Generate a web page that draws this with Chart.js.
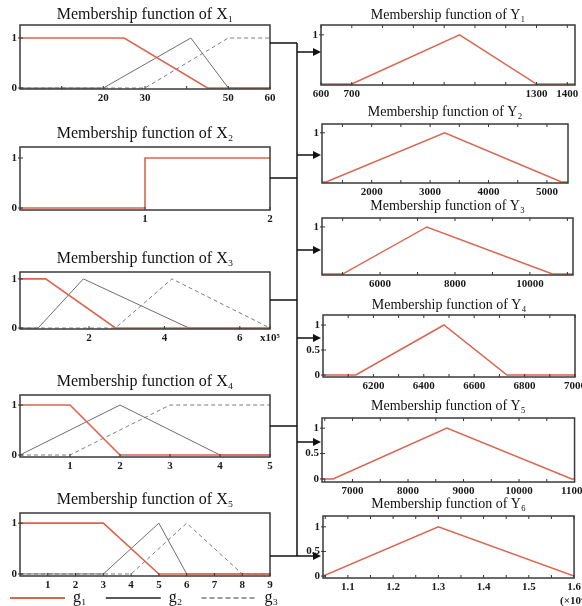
<!DOCTYPE html>
<html>
<head>
<meta charset="utf-8">
<script src="https://cdn.jsdelivr.net/npm/chart.js@4.4.0/dist/chart.umd.min.js"></script>
<style>
html, body { margin: 0; padding: 0; background: #fff; overflow: hidden; }
#wrap { position: relative; width: 582px; height: 606px; overflow: hidden; }
#wrap canvas { position: absolute; }
</style>
</head>
<body>
<div id="wrap"><canvas id="links" width="582" height="606" style="left:0;top:0;z-index:2"></canvas></div>
<script>
// ---- data (membership functions) ----
var x1G1 = [[0, 1], [25, 1], [45, 0], [60, 0]];
var x1G2 = [[0, 0], [20, 0], [41, 1], [50, 0], [60, 0]];
var x1G3 = [[0, 0], [30, 0], [50, 1], [60, 1]];
var x1TickVals = [10, 20, 30, 40, 50, 60];
var x1TickText = ['', '20', '30', '', '50', '60'];

var x2G1 = [[0, 0], [1, 0], [1, 1], [2, 1]];
var x2TickVals = [1, 2];
var x2TickText = ['1', '2'];

var x3G1 = [[0.17, 1], [0.85, 1], [2.7, 0], [6.8, 0]];
var x3G2 = [[0.17, 0], [0.65, 0], [1.85, 1], [4.65, 0], [6.8, 0]];
var x3G3 = [[0.17, 0], [2.7, 0], [4.2, 1], [6.8, 0]];
var x3TickVals = [2, 4, 6, 6.8];
var x3TickText = ['2', '4', '6', 'x10\u2075'];

var x4G1 = [[0, 1], [1, 1], [2, 0], [5, 0]];
var x4G2 = [[0, 0], [2, 1], [4, 0], [5, 0]];
var x4G3 = [[0, 0], [1, 0], [3, 1], [5, 1]];
var x4TickVals = [1, 2, 3, 4, 5];
var x4TickText = ['1', '2', '3', '4', '5'];

var x5G1 = [[0, 1], [3, 1], [5, 0], [9, 0]];
var x5G2 = [[0, 0], [3, 0], [5, 1], [6, 0], [9, 0]];
var x5G3 = [[0, 0], [4, 0], [6, 1], [8, 0], [9, 0]];
var x5TickVals = [1, 2, 3, 4, 5, 6, 7, 8, 9];
var x5TickText = ['1', '2', '3', '4', '5', '6', '7', '8', '9'];

var y1Line = [[600, 0], [700, 0], [1050, 1], [1300, 0], [1425, 0]];
var y1TickVals = [600, 700, 800, 900, 1000, 1100, 1200, 1300, 1400];
var y1TickText = ['600', '700', '', '', '', '', '', '1300', '1400'];

var y2Line = [[1150, 0], [1220, 0], [3250, 1], [5250, 0], [5360, 0]];
var y2TickVals = [1500, 2000, 2500, 3000, 3500, 4000, 4500, 5000];
var y2TickText = ['', '2000', '', '3000', '', '4000', '', '5000'];

var y3Line = [[4450, 0], [5000, 0], [7250, 1], [10600, 0], [11150, 0]];
var y3TickVals = [5000, 6000, 7000, 8000, 9000, 10000, 11000];
var y3TickText = ['', '6000', '', '8000', '', '10000', ''];

var y4Line = [[6000, 0], [6130, 0], [6480, 1], [6730, 0], [7000, 0]];
var y4TickVals = [6100, 6200, 6300, 6400, 6500, 6600, 6700, 6800, 6900, 7000];
var y4TickText = ['', '6200', '', '6400', '', '6600', '', '6800', '', '7000'];

var y5Line = [[6450, 0], [6650, 0], [8700, 1], [10950, 0], [11000, 0]];
var y5TickVals = [6500, 7000, 7500, 8000, 8500, 9000, 9500, 10000, 10500, 11000];
var y5TickText = ['', '7000', '', '8000', '', '9000', '', '10000', '', '11000'];

var y6Line = [[1.045, 0], [1.3, 1], [1.6, 0]];
var y6TickVals = [1.05, 1.1, 1.15, 1.2, 1.25, 1.3, 1.35, 1.4, 1.45, 1.5, 1.55, 1.6];
var y6TickText = ['', '1.1', '', '1.2', '', '1.3', '', '1.4', '', '1.5', '', ['1.6', '(\u00d710\u2074)']];

var muVals01 = [0, 1];
var muText01 = ['0', '1'];
var muVals1 = [1];
var muText1 = ['1'];
var muValsHalf = [0, 0.5, 1];
var muTextHalf = ['0', '0.5', '1'];

var legendNames = ['g\u2081', 'g\u2082', 'g\u2083'];

// ---- styles ----
var RED = '#d9654f', GRAY = '#6e6e6e', DGRAY = '#7c7c7c';
var SERIF = "'Liberation Serif', 'DejaVu Serif', serif";

Chart.defaults.font.family = SERIF;
Chart.defaults.color = '#1a1a1a';
Chart.defaults.animation = false;

var wrap = document.getElementById('wrap');

// frame around the plot area and small inward tick marks
var frame = {
  id: 'frame',
  afterDraw: function (chart, args, o) {
    var ctx = chart.ctx, a = chart.chartArea, sx = chart.scales.x, sy = chart.scales.y;
    ctx.save();
    ctx.strokeStyle = '#333';
    ctx.lineWidth = 1;
    sx.ticks.forEach(function (t) {
      var px = sx.getPixelForValue(t.value);
      ctx.beginPath();
      ctx.moveTo(px, a.bottom); ctx.lineTo(px, a.bottom - 3);
      if (o.top) { ctx.moveTo(px, a.top); ctx.lineTo(px, a.top + 3); }
      ctx.stroke();
    });
    sy.ticks.forEach(function (t) {
      var py = sy.getPixelForValue(t.value);
      ctx.beginPath();
      ctx.moveTo(a.left - 2, py); ctx.lineTo(a.left + 3, py);
      ctx.stroke();
    });
    ctx.lineWidth = 1.5;
    ctx.strokeStyle = '#3a3a3a';
    ctx.strokeRect(a.left, a.top, a.right - a.left, a.bottom - a.top);
    ctx.restore();
  }
};

function series(label, pts, color, width, dash) {
  return {
    label: label,
    data: pts.map(function (p) { return {x: p[0], y: p[1]}; }),
    borderColor: color,
    backgroundColor: color,
    borderWidth: width,
    borderDash: dash || [],
    pointRadius: 0,
    pointStyle: 'line',
    tension: 0,
    fill: false
  };
}

function axis(min, max, vals, text) {
  return {
    type: 'linear',
    min: min,
    max: max,
    grid: {display: false, drawTicks: false},
    border: {display: false},
    afterBuildTicks: function (s) { s.ticks = vals.map(function (v) { return {value: v}; }); },
    ticks: {
      autoSkip: false,
      maxRotation: 0,
      padding: 3,
      font: {size: 11, weight: 'bold'},
      callback: function (v, i) { return text[i]; }
    }
  };
}

// plot box: l, t, r, b in page pixels
function makeChart(box, kind, title, datasets, xAx, yAx, extra) {
  extra = extra || {};
  var yw = extra.yw || (kind === 'X' ? 20 : 24);
  var padL = extra.padL || 0;
  var gap = extra.titleGap !== undefined ? extra.titleGap : 3;
  var titleH = (kind === 'X' ? 20 : 17) + gap;
  var xh = extra.xh || 15;
  var rp = extra.padR ? 0 : 16;
  var legendH = extra.legend ? 26 : 0;
  var cv = document.createElement('canvas');
  cv.width = padL + yw + (box.r - box.l) + (extra.padR || rp);
  cv.height = titleH + (box.b - box.t) + xh + legendH;
  cv.style.left = (box.l - yw - padL) + 'px';
  cv.style.top = (box.t - titleH) + 'px';
  wrap.appendChild(cv);

  xAx.afterFit = function (s) {
    s.height = xh;
    if (extra.padR) s.paddingRight = extra.padR;
  };
  yAx.afterFit = function (s) { s.width = yw; };

  return new Chart(cv, {
    type: 'line',
    data: {datasets: datasets},
    plugins: [frame],
    options: {
      responsive: false,
      devicePixelRatio: 1,
      layout: {padding: {left: padL, top: 0, right: rp, bottom: 0}},
      scales: {x: xAx, y: yAx},
      plugins: {
        frame: {top: kind === 'Y'},
        tooltip: {enabled: false},
        title: {
          display: true,
          text: title,
          fullSize: false,
          color: '#111',
          font: kind === 'X'
            ? {size: 16, weight: 'normal', lineHeight: '20px'}
            : {size: 14, weight: 'normal', lineHeight: '17px'},
          padding: {top: 0, bottom: gap}
        },
        legend: extra.legend ? {
          display: true,
          position: 'bottom',
          align: 'start',
          labels: {
            usePointStyle: true,
            pointStyleWidth: 55,
            padding: 0,
            color: '#111',
            font: {size: 16, family: SERIF},
            generateLabels: function (chart) {
              var items = Chart.defaults.plugins.legend.labels.generateLabels(chart);
              items.forEach(function (it, i) {
                var ds = chart.data.datasets[i];
                it.text = legendNames[i] + (i < 2 ? '\u2003\u2009' : '');
                it.strokeStyle = i === 1 ? '#222' : ds.borderColor;
                it.lineWidth = i === 0 ? 2 : 1.5;
                it.lineDash = i === 2 ? [5, 3] : [];
              });
              return items;
            }
          }
        } : {display: false}
      }
    }
  });
}

function gSeries(g1, g2, g3) {
  var out = [series(legendNames[0], g1, RED, 1.6)];
  if (g2) out.push(series(legendNames[1], g2, GRAY, 1));
  if (g3) out.push(series(legendNames[2], g3, DGRAY, 1, [4, 3]));
  return out;
}

// left column: inputs
makeChart({l: 20, t: 25, r: 270, b: 89}, 'X', 'Membership function of X\u2081',
  gSeries(x1G1, x1G2, x1G3),
  axis(0, 60, x1TickVals, x1TickText), axis(-0.02, 1.26, muVals01, muText01), {titleGap: 0});
makeChart({l: 20, t: 147, r: 270, b: 210}, 'X', 'Membership function of X\u2082',
  gSeries(x2G1),
  axis(0, 2, x2TickVals, x2TickText), axis(-0.04, 1.22, muVals01, muText01));
makeChart({l: 20, t: 272, r: 270, b: 329}, 'X', 'Membership function of X\u2083',
  gSeries(x3G1, x3G2, x3G3),
  axis(0.17, 6.8, x3TickVals, x3TickText), axis(-0.02, 1.14, muVals01, muText01));
makeChart({l: 20, t: 395, r: 270, b: 457}, 'X', 'Membership function of X\u2084',
  gSeries(x4G1, x4G2, x4G3),
  axis(0, 5, x4TickVals, x4TickText), axis(-0.04, 1.2, muVals01, muText01));
makeChart({l: 20, t: 513, r: 270, b: 576}, 'X', 'Membership function of X\u2085',
  gSeries(x5G1, x5G2, x5G3),
  axis(0, 9, x5TickVals, x5TickText), axis(-0.04, 1.2, muVals01, muText01),
  {legend: true, xh: 14, padL: 10, yw: 10, padR: 34});

// right column: outputs
makeChart({l: 321, t: 25, r: 575, b: 85}, 'Y', 'Membership function of Y\u2081',
  [series('Y1', y1Line, RED, 1.5)],
  axis(600, 1425, y1TickVals, y1TickText), axis(-0.02, 1.2, muVals1, muText1), {titleGap: 1});
makeChart({l: 322, t: 124, r: 568, b: 183}, 'Y', 'Membership function of Y\u2082',
  [series('Y2', y2Line, RED, 1.5)],
  axis(1150, 5360, y2TickVals, y2TickText), axis(-0.02, 1.18, muVals1, muText1));
makeChart({l: 322, t: 218, r: 573, b: 275}, 'Y', 'Membership function of Y\u2083',
  [series('Y3', y3Line, RED, 1.5)],
  axis(4450, 11150, y3TickVals, y3TickText), axis(-0.02, 1.19, muVals1, muText1));
makeChart({l: 323, t: 315, r: 575, b: 377}, 'Y', 'Membership function of Y\u2084',
  [series('Y4', y4Line, RED, 1.5)],
  axis(6000, 7000, y4TickVals, y4TickText), axis(-0.04, 1.2, muValsHalf, muTextHalf), {titleGap: 1});
makeChart({l: 322, t: 418, r: 575, b: 482}, 'Y', 'Membership function of Y\u2085',
  [series('Y5', y5Line, RED, 1.5)],
  axis(6450, 11000, y5TickVals, y5TickText), axis(-0.06, 1.2, muValsHalf, muTextHalf));
makeChart({l: 323, t: 516, r: 575, b: 578}, 'Y', 'Membership function of Y\u2086',
  [series('Y6', y6Line, RED, 1.5)],
  axis(1.045, 1.6, y6TickVals, y6TickText), axis(-0.04, 1.22, muValsHalf, muTextHalf), {xh: 28});

// connectors from inputs to outputs
var lc = document.getElementById('links').getContext('2d');
var busX = 297;
var inY = [43, 178, 300, 426, 556];
var outY = [52, 155, 250, 338, 442, 556];
lc.strokeStyle = '#111';
lc.fillStyle = '#111';
lc.lineWidth = 1.5;
inY.forEach(function (y) {
  lc.beginPath(); lc.moveTo(270, y); lc.lineTo(busX, y); lc.stroke();
});
lc.beginPath(); lc.moveTo(busX, inY[0]); lc.lineTo(busX, inY[inY.length - 1]); lc.stroke();
outY.forEach(function (y) {
  lc.beginPath(); lc.moveTo(busX, y); lc.lineTo(314, y); lc.stroke();
  lc.beginPath(); lc.moveTo(321, y); lc.lineTo(313, y - 4); lc.lineTo(313, y + 4); lc.closePath(); lc.fill();
});
</script>
</body>
</html>
